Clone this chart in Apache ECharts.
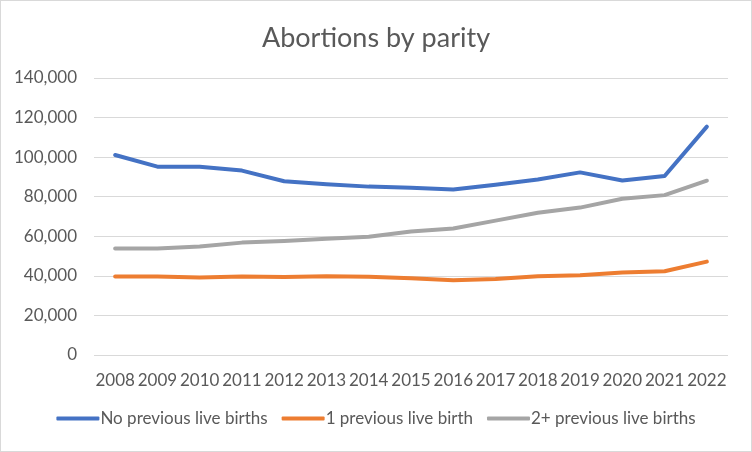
<!DOCTYPE html>
<html>
<head>
<meta charset="utf-8">
<script src="https://cdn.jsdelivr.net/npm/echarts@6/dist/echarts.min.js"></script>
<style>
  html, body { margin: 0; padding: 0; background: #fff; }
  #chart { width: 750px; height: 450px; border: 1px solid #d9d9d9; }
</style>
</head>
<body>
<div id="chart"></div>
<script>
// values
const years = ['2008', '2009', '2010', '2011', '2012', '2013', '2014', '2015',
  '2016', '2017', '2018', '2019', '2020', '2021', '2022']
const noPrevious = [101100, 95200, 95200, 93200, 87800, 86300, 85100, 84500,
  83600, 86100, 88700, 92300, 88200, 90500, 115400]
const onePrevious = [39700, 39700, 39200, 39700, 39400, 39800, 39500, 38800,
  37800, 38400, 39800, 40300, 41700, 42300, 47200]
const twoPlusPrevious = [53800, 53800, 54800, 56800, 57600, 58800, 59800, 62400,
  63900, 67900, 71900, 74500, 79000, 80800, 88100]

const textColor = '#595959'
const font = 'Lato, "Open Sans", sans-serif'

const makeSeries = (name, data, color) => ({
  name,
  type: 'line',
  data,
  symbol: 'none',
  smooth: false,
  lineStyle: { width: 4, color, cap: 'round', join: 'round' },
  itemStyle: { color }
})

const chart = echarts.init(document.getElementById('chart'))
chart.setOption({
  animation: false,
  textStyle: { fontFamily: font },
  title: {
    text: 'Abortions by parity',
    left: 'center',
    top: 19,
    textStyle: { fontSize: 27, fontWeight: 'normal', color: textColor, fontFamily: font }
  },
  legend: {
    bottom: 19,
    left: 'center',
    icon: 'roundRect',
    itemWidth: 43,
    itemHeight: 4,
    itemGap: 14,
    textStyle: { fontSize: 17, color: textColor, fontFamily: font, padding: [0, 0, 0, -4] },
    data: ['No previous live births', '1 previous live birth', '2+ previous live births']
  },
  grid: { left: 93, right: 23, top: 77, bottom: 96, containLabel: false },
  xAxis: {
    type: 'category',
    data: years,
    boundaryGap: true,
    axisLine: { show: false },
    axisTick: { show: false },
    axisLabel: { color: textColor, fontSize: 17, margin: 17, interval: 0, fontFamily: font }
  },
  yAxis: {
    type: 'value',
    min: 0,
    max: 140000,
    interval: 20000,
    axisLine: { show: false },
    axisTick: { show: false },
    splitLine: { lineStyle: { color: '#d9d9d9', width: 1 } },
    axisLabel: {
      color: textColor,
      fontSize: 17,
      margin: 17,
      fontFamily: font,
      formatter: v => v.toLocaleString('en-US')
    }
  },
  series: [
    makeSeries('No previous live births', noPrevious, '#4472C4'),
    makeSeries('1 previous live birth', onePrevious, '#ED7D31'),
    makeSeries('2+ previous live births', twoPlusPrevious, '#A5A5A5')
  ]
})
</script>
</body>
</html>
